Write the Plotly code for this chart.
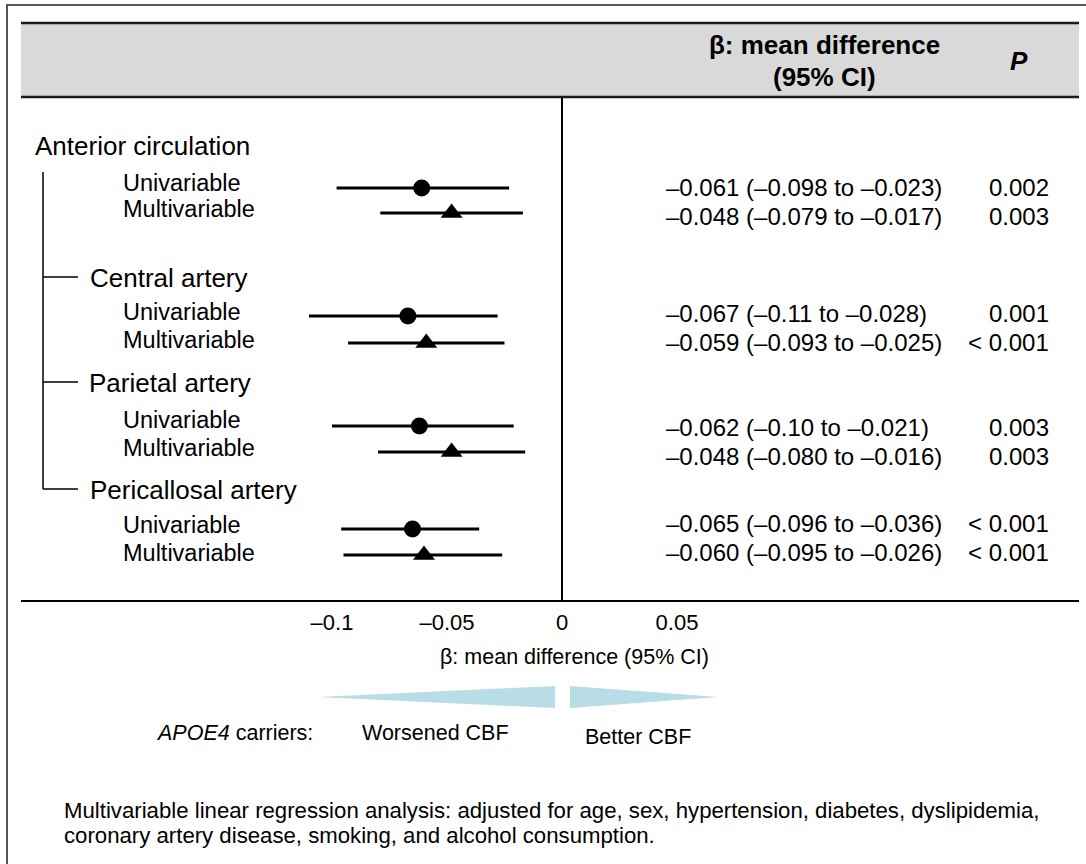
import plotly.graph_objects as go

# ---------------- data ----------------
groups = ["Anterior circulation", "Central artery", "Parietal artery", "Pericallosal artery"]
models = ["Univariable", "Multivariable"]
beta = [-0.061, -0.048, -0.067, -0.059, -0.062, -0.048, -0.065, -0.060]
ci_low = [-0.098, -0.079, -0.11, -0.093, -0.10, -0.080, -0.096, -0.095]
ci_high = [-0.023, -0.017, -0.028, -0.025, -0.021, -0.016, -0.036, -0.026]
ci_text = [
    "\u20130.061 (\u20130.098 to \u20130.023)",
    "\u20130.048 (\u20130.079 to \u20130.017)",
    "\u20130.067 (\u20130.11 to \u20130.028)",
    "\u20130.059 (\u20130.093 to \u20130.025)",
    "\u20130.062 (\u20130.10 to \u20130.021)",
    "\u20130.048 (\u20130.080 to \u20130.016)",
    "\u20130.065 (\u20130.096 to \u20130.036)",
    "\u20130.060 (\u20130.095 to \u20130.026)",
]
p_text = ["0.002", "0.003", "0.001", "< 0.001", "0.003", "0.003", "< 0.001", "< 0.001"]
tick_vals = [-0.1, -0.05, 0, 0.05]
tick_text = ["\u20130.1", "\u20130.05", "0", "0.05"]
footnote = [
    "Multivariable linear regression analysis: adjusted for age, sex, hypertension, diabetes, dyslipidemia,",
    "coronary artery disease, smoking, and alcohol consumption.",
]

# ---------------- layout geometry (pixels) ----------------
W, H = 1086, 864
L, R, T, B = 21, 1079, 98, 600
X0 = 562          # pixel of beta = 0
PXU = 2300        # pixels per unit of beta
xmin = -(X0 - L) / PXU
xmax = (R - X0) / PXU

def px(x):
    return (x - L) / (R - L)

def py(y):
    return (B - y) / (B - T)

mark_y = [188, 213, 316, 343, 426, 452, 529, 555]
label_y = [183, 209, 312, 340, 420, 448, 525, 553]
num_y = [188, 216, 313, 342, 427, 456, 523, 552]
group_pos = [(33, 146), (88, 278), (87, 383), (88, 490)]

FONT = "Arial, 'Liberation Sans', Helvetica, sans-serif"

fig = go.Figure()

for k, sym, size, name in [(0, "circle", 17, "Univariable"), (1, "triangle-up", 19, "Multivariable")]:
    idx = list(range(k, len(beta), 2))
    fig.add_trace(go.Scatter(
        x=[beta[i] for i in idx],
        y=[mark_y[i] for i in idx],
        mode="markers",
        name=name,
        marker=dict(symbol=sym, size=size, color="black"),
        error_x=dict(
            type="data", symmetric=False,
            array=[ci_high[i] - beta[i] for i in idx],
            arrayminus=[beta[i] - ci_low[i] for i in idx],
            thickness=3, width=0, color="black",
        ),
        showlegend=False,
        hoverinfo="skip",
    ))

shapes = []
# outer border
shapes.append(dict(type="rect", xref="paper", yref="paper",
                   x0=px(7), x1=px(1095), y0=py(5), y1=py(880),
                   line=dict(color="#555555", width=2), fillcolor="rgba(0,0,0,0)", layer="below"))
# header band
shapes.append(dict(type="rect", xref="paper", yref="paper",
                   x0=px(21), x1=px(1079), y0=py(23), y1=py(97),
                   line=dict(width=0), fillcolor="#d9d9d9", layer="below"))
for yy in (23, 97):
    shapes.append(dict(type="line", xref="paper", yref="paper",
                       x0=px(21), x1=px(1079), y0=py(yy), y1=py(yy),
                       line=dict(color="#1a1a1a", width=2.5)))
# tree lines
shapes.append(dict(type="line", xref="paper", yref="paper",
                   x0=px(43), x1=px(43), y0=py(172), y1=py(489),
                   line=dict(color="black", width=1.5)))
for (gx, gy) in group_pos[1:]:
    shapes.append(dict(type="line", xref="paper", yref="paper",
                       x0=px(43), x1=px(78), y0=py(gy - 1), y1=py(gy - 1),
                       line=dict(color="black", width=1.5)))
# direction wedges
blue = "#b8dde6"
left_path = "M {a},{b} L {c},{d} L {c},{e} Z".format(
    a=px(318), b=py(697), c=px(555), d=py(686), e=py(708))
right_path = "M {a},{b} L {a},{c} L {d},{e} Z".format(
    a=px(570), b=py(686), c=py(708), d=px(718), e=py(697))
for pth in (left_path, right_path):
    shapes.append(dict(type="path", xref="paper", yref="paper", path=pth,
                       fillcolor=blue, line=dict(width=0)))

ann = []

def text(x, y, s, size, xanchor="left", bold=False, italic=False):
    if bold:
        s = "<b>" + s + "</b>"
    if italic:
        s = "<i>" + s + "</i>"
    ann.append(dict(x=px(x), y=py(y), xref="paper", yref="paper", text=s,
                    showarrow=False, xanchor=xanchor, yanchor="middle",
                    font=dict(family=FONT, size=size, color="black")))

# header
text(824, 45, "\u03b2: mean difference", 26, "center", bold=True)
text(824, 77, "(95% CI)", 26, "center", bold=True)
text(1019, 61, "P", 26, "center", bold=True, italic=True)

# group labels
for g, (gx, gy) in zip(groups, group_pos):
    text(gx, gy, g, 26)

# model labels, CI text, p values
for i in range(len(beta)):
    text(121, label_y[i], models[i % 2], 23.5)
    text(664, num_y[i], ci_text[i], 24)
    text(1051, num_y[i], p_text[i], 24, "right")

# axis title and direction labels
text(574, 657, "\u03b2: mean difference (95% CI)", 21.5, "center")
text(315, 733, "<i>APOE4</i> carriers:", 21.5, "right")
text(435, 733, "Worsened CBF", 21.5, "center")
text(638, 737, "Better CBF", 21.5, "center")

# footnote
text(62, 810, footnote[0], 22.2)
text(62, 835, footnote[1], 22.2)

fig.update_layout(
    width=W, height=H,
    margin=dict(l=L, r=W - R, t=T, b=H - B, pad=0),
    paper_bgcolor="white", plot_bgcolor="white",
    shapes=shapes, annotations=ann,
    xaxis=dict(range=[xmin, xmax], tickvals=tick_vals, ticktext=tick_text,
               showgrid=False, zeroline=True, zerolinecolor="black", zerolinewidth=1.5,
               showline=True, linecolor="black", linewidth=2, ticks="",
               tickfont=dict(family=FONT, size=22, color="black"),
               ticklabelstandoff=2, fixedrange=True),
    yaxis=dict(range=[B, T], visible=False, fixedrange=True),
    font=dict(family=FONT),
)

fig.write_html(
    "out.html",
    config={"displayModeBar": False},
    post_script="document.body.style.margin='0';",
)
